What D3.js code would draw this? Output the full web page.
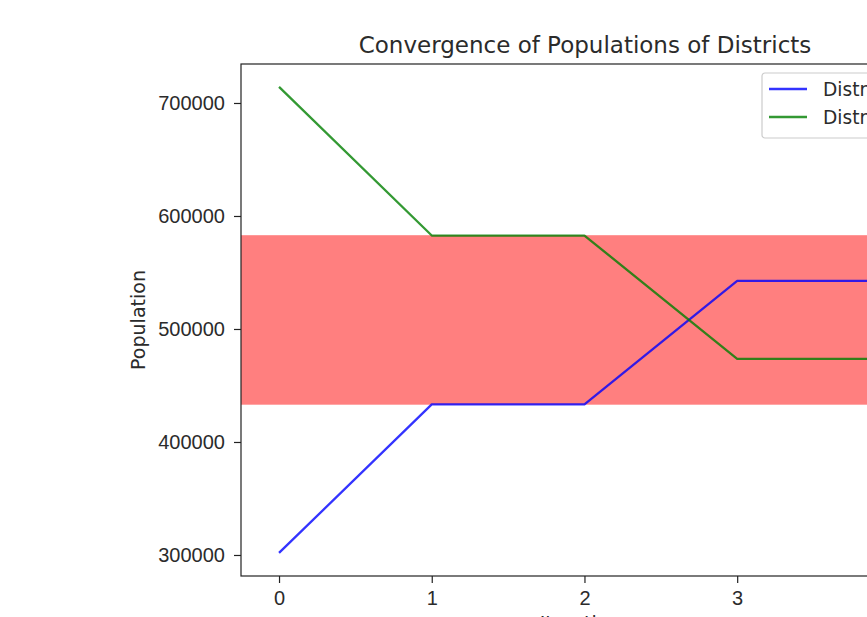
<!DOCTYPE html>
<html>
<head>
<meta charset="utf-8">
<script src="https://cdn.jsdelivr.net/npm/d3@7"></script>
<style>
  html, body { margin: 0; padding: 0; background: #fff; }
  svg { display: block; font-family: "DejaVu Sans", sans-serif; }
</style>
</head>
<body>
<svg id="chart" width="867" height="617"></svg>
<script>
// Data
const steps = [0, 1, 2, 3, 4];
const district1 = [301800, 433300, 433300, 542500, 542500];
const district2 = [714200, 582700, 582700, 473500, 473500];
const bandRange = [433000, 583000];
const seriesNames = ["District 1", "District 2"];
const seriesColors = ["#0000ff", "#008000"];
const xTicks = [0, 1, 2, 3, 4];
const yTicks = [300000, 400000, 500000, 600000, 700000];

// Axes box (the figure is cut off on the right and bottom)
const box = { left: 241, right: 929, top: 64, bottom: 576 };

const svg = d3.select("#chart");

const x = d3.scaleLinear().domain([-0.249, 4.256]).range([box.left, box.right]);
const y = d3.scaleLinear().domain([281400, 734500]).range([box.bottom, box.top]);

// Shaded band
svg.append("rect")
    .attr("x", box.left)
    .attr("width", box.right - box.left)
    .attr("y", y(bandRange[1]))
    .attr("height", y(bandRange[0]) - y(bandRange[1]))
    .attr("fill", "#ff0000")
    .attr("fill-opacity", 0.5);

// Lines
const line = d3.line().x((d, i) => x(steps[i])).y(d => y(d));
[district1, district2].forEach((vals, i) => {
    svg.append("path")
        .datum(vals)
        .attr("d", line)
        .attr("fill", "none")
        .attr("stroke", seriesColors[i])
        .attr("stroke-opacity", 0.8)
        .attr("stroke-width", 2.3)
        .attr("stroke-linejoin", "round");
});

// Axes
const xAxis = d3.axisBottom(x).tickValues(xTicks).tickSize(7).tickPadding(8).tickFormat(d3.format("d"));
const yAxis = d3.axisLeft(y).tickValues(yTicks).tickSize(7).tickPadding(9).tickFormat(d3.format("d"));

const gx = svg.append("g").attr("transform", `translate(0,${box.bottom})`).call(xAxis);
const gy = svg.append("g").attr("transform", `translate(${box.left},0)`).call(yAxis);
[gx, gy].forEach(g => {
    g.select(".domain").remove();
    g.selectAll(".tick line").attr("stroke", "#222").attr("stroke-width", 1.2);
    g.selectAll(".tick text").attr("fill", "#2b2b2b").style("font-size", "20px");
});

// Frame
svg.append("rect")
    .attr("x", box.left).attr("y", box.top)
    .attr("width", box.right - box.left).attr("height", box.bottom - box.top)
    .attr("fill", "none").attr("stroke", "#222").attr("stroke-width", 1.2);

// Title and labels
const midX = (box.left + box.right) / 2;
svg.append("text")
    .attr("x", midX).attr("y", 53)
    .attr("text-anchor", "middle")
    .attr("fill", "#2b2b2b")
    .style("font-size", "23px")
    .text("Convergence of Populations of Districts");

svg.append("text")
    .attr("transform", `translate(145,${(box.top + box.bottom) / 2}) rotate(-90)`)
    .attr("text-anchor", "middle")
    .attr("fill", "#2b2b2b")
    .style("font-size", "19px")
    .text("Population");

svg.append("text")
    .attr("x", midX).attr("y", 630)
    .attr("text-anchor", "middle")
    .attr("fill", "#2b2b2b")
    .style("font-size", "19px")
    .text("Iterations");

// Legend
const legend = svg.append("g").attr("transform", "translate(762,73)");
legend.append("rect")
    .attr("width", 160).attr("height", 65).attr("rx", 3)
    .attr("fill", "#fff").attr("fill-opacity", 0.8)
    .attr("stroke", "#ccc").attr("stroke-width", 1.2);
seriesNames.forEach((name, i) => {
    const row = legend.append("g").attr("transform", `translate(0,${16 + i * 28})`);
    row.append("line")
        .attr("x1", 7).attr("x2", 45)
        .attr("stroke", seriesColors[i]).attr("stroke-opacity", 0.8).attr("stroke-width", 2.3);
    row.append("text")
        .attr("x", 61).attr("y", 6.5)
        .attr("fill", "#2b2b2b")
        .style("font-size", "18.6px")
        .text(name);
});
</script>
</body>
</html>
